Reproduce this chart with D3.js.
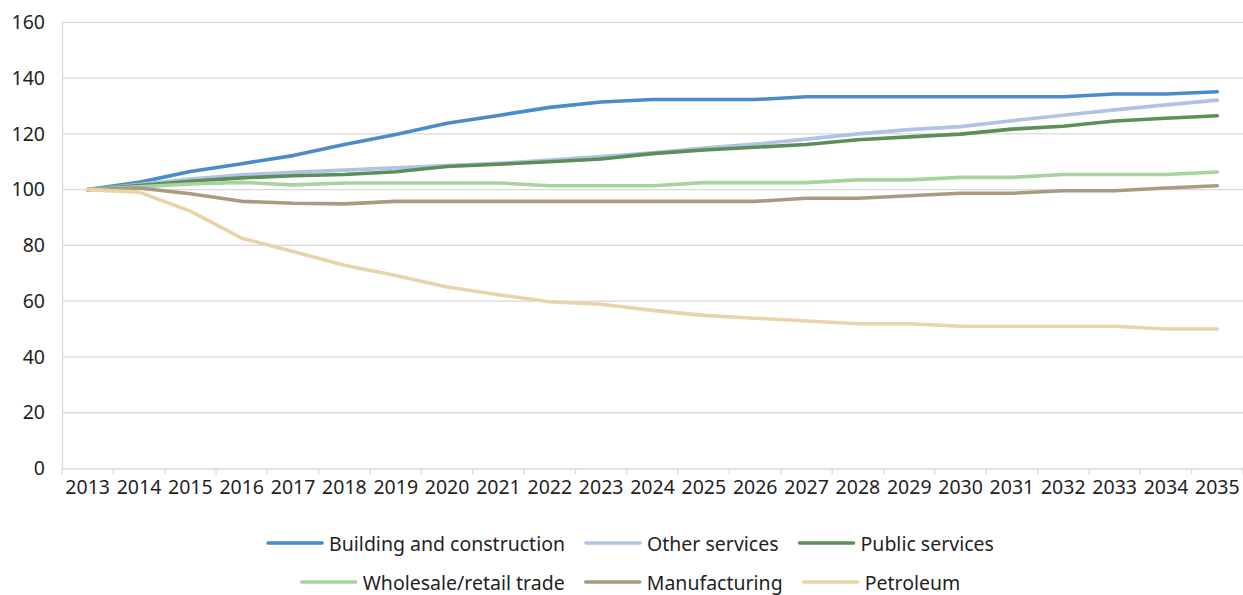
<!DOCTYPE html>
<html>
<head>
<meta charset="utf-8">
<script src="https://cdn.jsdelivr.net/npm/d3@7"></script>
<style>
  html, body { margin: 0; padding: 0; background: #fff; }
  svg { display: block; font-family: "Noto Sans", sans-serif; }
</style>
</head>
<body>
<svg id="chart" width="1243" height="595"></svg>
<script>
// Index values by year, 2013 = 100
const years = ["2013","2014","2015","2016","2017","2018","2019","2020","2021","2022","2023","2024",
               "2025","2026","2027","2028","2029","2030","2031","2032","2033","2034","2035"];

const building      = [100, 102.6, 106.5, 109.3, 112.2, 116.2, 119.8, 123.8, 126.6, 129.5, 131.4, 132.3,
                       132.3, 132.3, 133.3, 133.3, 133.3, 133.3, 133.3, 133.3, 134.3, 134.3, 135.1];
const otherServices = [100, 101.8, 103.8, 105.3, 106.2, 107.0, 107.8, 108.6, 109.4, 110.6, 111.9, 113.2,
                       114.9, 116.3, 118.1, 120.0, 121.5, 122.6, 124.7, 126.7, 128.6, 130.4, 132.1];
const publicServices= [100, 101.5, 103.0, 104.2, 105.0, 105.4, 106.4, 108.3, 109.1, 110.0, 111.0, 112.9,
                       114.2, 115.2, 116.2, 117.9, 118.9, 119.9, 121.7, 122.7, 124.6, 125.6, 126.5];
const wholesale     = [100, 101.0, 102.0, 102.6, 101.7, 102.4, 102.4, 102.4, 102.4, 101.4, 101.4, 101.4,
                       102.5, 102.5, 102.5, 103.5, 103.5, 104.4, 104.4, 105.4, 105.4, 105.4, 106.3];
const manufacturing = [100, 100.6, 98.5, 95.8, 95.1, 94.9, 95.8, 95.8, 95.8, 95.8, 95.8, 95.8,
                       95.8, 95.8, 96.9, 96.9, 97.8, 98.7, 98.7, 99.6, 99.6, 100.6, 101.4];
const petroleum     = [100, 99.1, 92.3, 82.6, 77.8, 72.9, 69.2, 65.1, 62.3, 59.8, 58.9, 56.7,
                       54.9, 53.9, 52.9, 51.9, 51.9, 51.0, 51.0, 51.0, 51.0, 50.0, 50.0];

const yTicks = [0, 20, 40, 60, 80, 100, 120, 140, 160];

const seriesNames  = ["Building and construction", "Other services", "Public services",
                      "Wholesale/retail trade", "Manufacturing", "Petroleum"];
const seriesValues = [building, otherServices, publicServices, wholesale, manufacturing, petroleum];
const seriesColors = ["#4A8BCA", "#B0C3E6", "#5B8F57", "#A8D3A0", "#A89B80", "#E9D3A8"];

const svg = d3.select("#chart");
const plotLeft = 62, plotRight = 1243, plotTop = 22.3, plotBottom = 468.5;
const gridColor = "#d9d9d9";
const textColor = "#1f1f1f";
const fontSize = 19.5;

const x = d3.scaleBand().domain(years).range([plotLeft, plotRight]).padding(0);
const y = d3.scaleLinear().domain([0, 160]).range([plotBottom, plotTop]);

// Horizontal gridlines
svg.append("g")
  .selectAll("line")
  .data(yTicks.filter(d => d !== 0))
  .join("line")
  .attr("x1", plotLeft).attr("x2", plotRight)
  .attr("y1", d => y(d)).attr("y2", d => y(d))
  .attr("stroke", gridColor).attr("stroke-width", 1.3);

// Y axis
const yAxis = svg.append("g")
  .attr("transform", `translate(${plotLeft},0)`)
  .call(d3.axisLeft(y).tickValues(yTicks).tickSize(0).tickPadding(17));
yAxis.select(".domain").attr("stroke", gridColor).attr("stroke-width", 1.3);
yAxis.selectAll("text").attr("font-size", fontSize).attr("fill", textColor)
  .attr("font-family", "Noto Sans");

// X axis with category-boundary ticks
const xAxis = svg.append("g")
  .attr("transform", `translate(0,${plotBottom})`)
  .call(d3.axisBottom(x).tickSize(0).tickPadding(12));
xAxis.select(".domain").attr("stroke", gridColor).attr("stroke-width", 1.3);
xAxis.selectAll("text").attr("font-size", fontSize).attr("fill", textColor)
  .attr("font-family", "Noto Sans");
xAxis.selectAll(".boundary")
  .data(years.concat(["end"]))
  .join("line")
  .attr("class", "boundary")
  .attr("x1", (d, i) => plotLeft + i * x.step())
  .attr("x2", (d, i) => plotLeft + i * x.step())
  .attr("y1", 0).attr("y2", 6)
  .attr("stroke", gridColor).attr("stroke-width", 1.3);

// Series lines
const line = d3.line()
  .x((d, i) => x(years[i]) + x.bandwidth() / 2)
  .y(d => y(d));

svg.append("g")
  .selectAll("path")
  .data(seriesValues)
  .join("path")
  .attr("d", d => line(d))
  .attr("fill", "none")
  .attr("stroke", (d, i) => seriesColors[i])
  .attr("stroke-width", 3.6)
  .attr("stroke-linejoin", "round")
  .attr("stroke-linecap", "round");

// Legend in two centred rows
const legendRows = [[0, 1, 2], [3, 4, 5]];
const rowY = [543, 582];
const swatchW = 54, swatchGap = 7, itemGap = 21, legendCenter = 631;

legendRows.forEach((row, r) => {
  const g = svg.append("g");
  const items = row.map(idx => {
    const t = g.append("text")
      .attr("font-size", fontSize)
      .attr("fill", textColor)
      .attr("dominant-baseline", "central")
      .attr("y", rowY[r])
      .text(seriesNames[idx]);
    return { idx, t, w: t.node().getComputedTextLength() };
  });
  const total = d3.sum(items, d => swatchW + swatchGap + d.w) + itemGap * (items.length - 1);
  let cx = legendCenter - total / 2;
  items.forEach(it => {
    g.append("line")
      .attr("x1", cx).attr("x2", cx + swatchW)
      .attr("y1", rowY[r]).attr("y2", rowY[r])
      .attr("stroke", seriesColors[it.idx])
      .attr("stroke-width", 3.6)
      .attr("stroke-linecap", "round");
    it.t.attr("x", cx + swatchW + swatchGap);
    cx += swatchW + swatchGap + it.w + itemGap;
  });
});
</script>
</body>
</html>
